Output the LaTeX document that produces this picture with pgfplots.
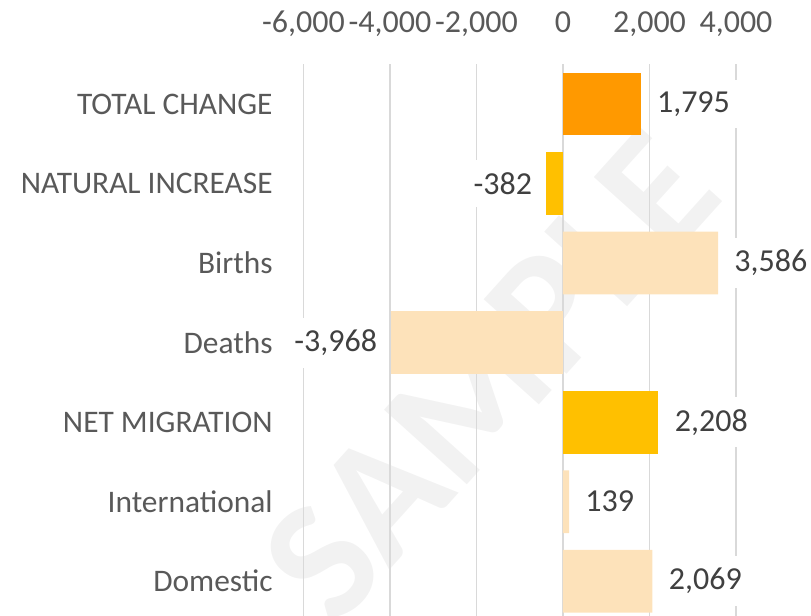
\documentclass[border=0pt]{standalone}
\usepackage{pgfplots}
\pgfplotsset{compat=1.18}
\usepackage{fontspec}
\setmainfont{Carlito}
\definecolor{tickgray}{HTML}{595959}
\definecolor{labgray}{HTML}{404040}
\definecolor{gridc}{HTML}{D9D9D9}
\definecolor{darkor}{HTML}{FF9900}
\definecolor{gold}{HTML}{FFC000}
\definecolor{peach}{HTML}{FDE2BA}
\definecolor{wm}{HTML}{F2F2F2}
\begin{document}
\begin{tikzpicture}[x=1pt,y=1pt]
% watermark (behind everything)
\node[rotate=48, text=wm, font=\fontsize{86}{86}\selectfont\bfseries, inner sep=0pt] at (245pt,120pt) {SAMPLE};
\begin{axis}[
  at={(151.75pt,275.9pt)}, anchor=north west,
  scale only axis,
  width=216.25pt, height=278.4pt,
  xbar, bar width=0.79,
  xmin=-6000, xmax=4000,
  ymin=-0.5, ymax=6.5, y dir=reverse,
  xtick={-6000,-4000,-2000,0,2000,4000},
  xticklabels={{-6,000},{-4,000},{-2,000},{0},{2,000},{4,000}},
  xticklabel pos=upper,
  xticklabel style={anchor=base, inner sep=0pt, yshift=16pt, text=tickgray, font=\fontsize{16}{19}\selectfont},
  ytick={0,1,2,3,4,5,6},
  yticklabels={TOTAL CHANGE, NATURAL INCREASE, Births, Deaths, NET MIGRATION, International, Domestic},
  yticklabel style={anchor=east, inner sep=0pt, xshift=-15.25pt, text=tickgray, font=\fontsize{15.7}{19}\selectfont},
  major tick length=0pt,
  axis line style={draw=none},
  xmajorgrids, ymajorgrids=false,
  grid style={gridc, line width=0.85pt},
  point meta=explicit symbolic,
  nodes near coords,
  nodes near coords style={fill=white, text=labgray, font=\fontsize{16}{19}\selectfont, inner xsep=3.5pt, inner ysep=6pt},
  clip=false,
]
\addplot[fill=darkor, draw=none, bar shift=0pt, every node near coord/.append style={anchor=west, xshift=4.5pt}]
  coordinates {(1795,0) [{1,795}]};
\addplot[fill=gold, draw=none, bar shift=0pt, every node near coord/.append style={anchor=west, xshift=4.5pt}]
  coordinates {(2208,4) [{2,208}]};
\addplot[fill=gold, draw=none, bar shift=0pt, every node near coord/.append style={anchor=east, xshift=-3.5pt}]
  coordinates {(-382,1) [{-382}]};
\addplot[fill=peach, draw=none, bar shift=0pt, every node near coord/.append style={anchor=west, xshift=4.5pt}]
  coordinates {(3586,2) [{3,586}] (139,5) [{139}] (2069,6) [{2,069}]};
\addplot[fill=peach, draw=none, bar shift=0pt, every node near coord/.append style={anchor=east, xshift=-3.5pt}]
  coordinates {(-3968,3) [{-3,968}]};
\end{axis}
\pgfresetboundingbox
\path[use as bounding box] (0,0) rectangle (405.5pt,308pt);
\end{tikzpicture}
\end{document}
